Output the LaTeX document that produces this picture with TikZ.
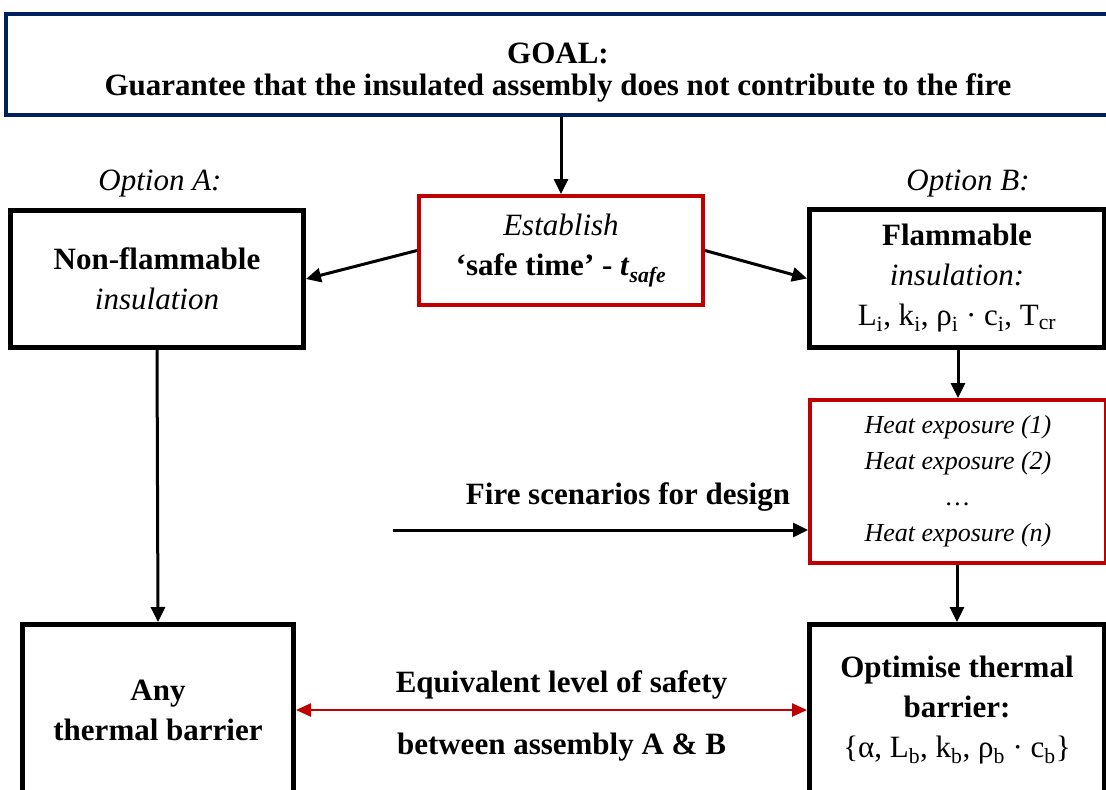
\documentclass[tikz,border=0pt]{standalone}
\usepackage{fontspec}
\setmainfont{Liberation Serif}
\usetikzlibrary{arrows.meta}

\definecolor{goalblue}{HTML}{002060}
\definecolor{firered}{HTML}{C00000}

\begin{document}
\begin{tikzpicture}[x=1pt,y=-1pt,
    every node/.style={font=\fontsize{31}{40}\selectfont, align=center, inner sep=0pt},
    blackbox/.style={draw=black, line width=5pt},
    redbox/.style={draw=firered, line width=4pt},
    flow/.style={-{Triangle[length=15pt,width=14pt]}, line width=3pt},
    equiv/.style={{Triangle[length=15pt,width=13pt]}-{Triangle[length=15pt,width=13pt]}, line width=2.5pt, draw=firered, color=firered}]
\useasboundingbox (0,0) rectangle (1106,790);
\clip (0,0) rectangle (1106,790);

% Goal on top
\node[draw=goalblue, line width=4pt, minimum width=1104pt, minimum height=101pt] (goal) at (558,64) {};
\node[font=\fontsize{31}{32}\selectfont\bfseries] (goaltxt) at (558,73)
  {GOAL:\\Guarantee that the insulated assembly does not contribute to the fire};

% Safe time in the middle
\node[redbox, minimum width=284pt, minimum height=109pt] (establish) at (561,250.5)
  {\textit{Establish}\\\textbf{‘safe time’ - \textit{t}\textsubscript{\textit{safe}}}};

% The two options
\node[font=\fontsize{31}{40}\selectfont\itshape] (optA) at (160,184) {Option A:};
\node[font=\fontsize{31}{40}\selectfont\itshape] (optB) at (968,184) {Option B:};

\node[blackbox, minimum width=293pt, minimum height=137pt] (nonflam) at (157,279)
  {\textbf{Non-flammable}\\\textit{insulation}};
\node[blackbox, minimum width=295pt, minimum height=138pt] (flam) at (957,278.5)
  {\textbf{Flammable}\\\textit{insulation:}\\L\textsubscript{i}, k\textsubscript{i}, ρ\textsubscript{i} · c\textsubscript{i}, T\textsubscript{cr}};

% Heat exposures
\node[redbox, minimum width=296pt, minimum height=163pt, font=\fontsize{26}{36}\selectfont\itshape] (heat) at (958,481.5)
  {Heat exposure (1)\\Heat exposure (2)\\…\\Heat exposure (n)};
\node[font=\fontsize{31}{40}\selectfont\bfseries] (fire) at (628,497) {Fire scenarios for design};
\coordinate (firestart) at (393,530);

% Thermal barriers
\node[blackbox, minimum width=271pt, minimum height=171pt] (anybar) at (158,710)
  {\textbf{Any}\\\textbf{thermal barrier}};
\node[blackbox, minimum width=295pt, minimum height=171pt] (optim) at (957,710)
  {\textbf{Optimise thermal}\\\textbf{barrier:}\\\{α, L\textsubscript{b}, k\textsubscript{b}, ρ\textsubscript{b} · c\textsubscript{b}\}};

% Arrows
\draw[flow] (goal.south -| establish.north) -- (establish.north);
\draw[flow] (establish.west) -- (nonflam.east);
\draw[flow] (establish.east) -- (flam.west);
\draw[flow] (flam.south -| heat.north) -- (heat.north);
\draw[flow] (firestart) -- (firestart -| heat.west);
\draw[flow] (nonflam.south) -- (anybar.north);
\draw[flow] (heat.south -| optim.north) -- (optim.north);
\draw[equiv] (anybar.east) -- (optim.west)
  node[midway, anchor=south, yshift=10pt, xshift=10pt, font=\fontsize{31}{40}\selectfont\bfseries, text=black] (equivtop) {Equivalent level of safety}
  node[midway, anchor=north, yshift=-22pt, xshift=10pt, font=\fontsize{31}{40}\selectfont\bfseries, text=black] (equivbot) {between assembly A \& B};
\end{tikzpicture}
\end{document}
